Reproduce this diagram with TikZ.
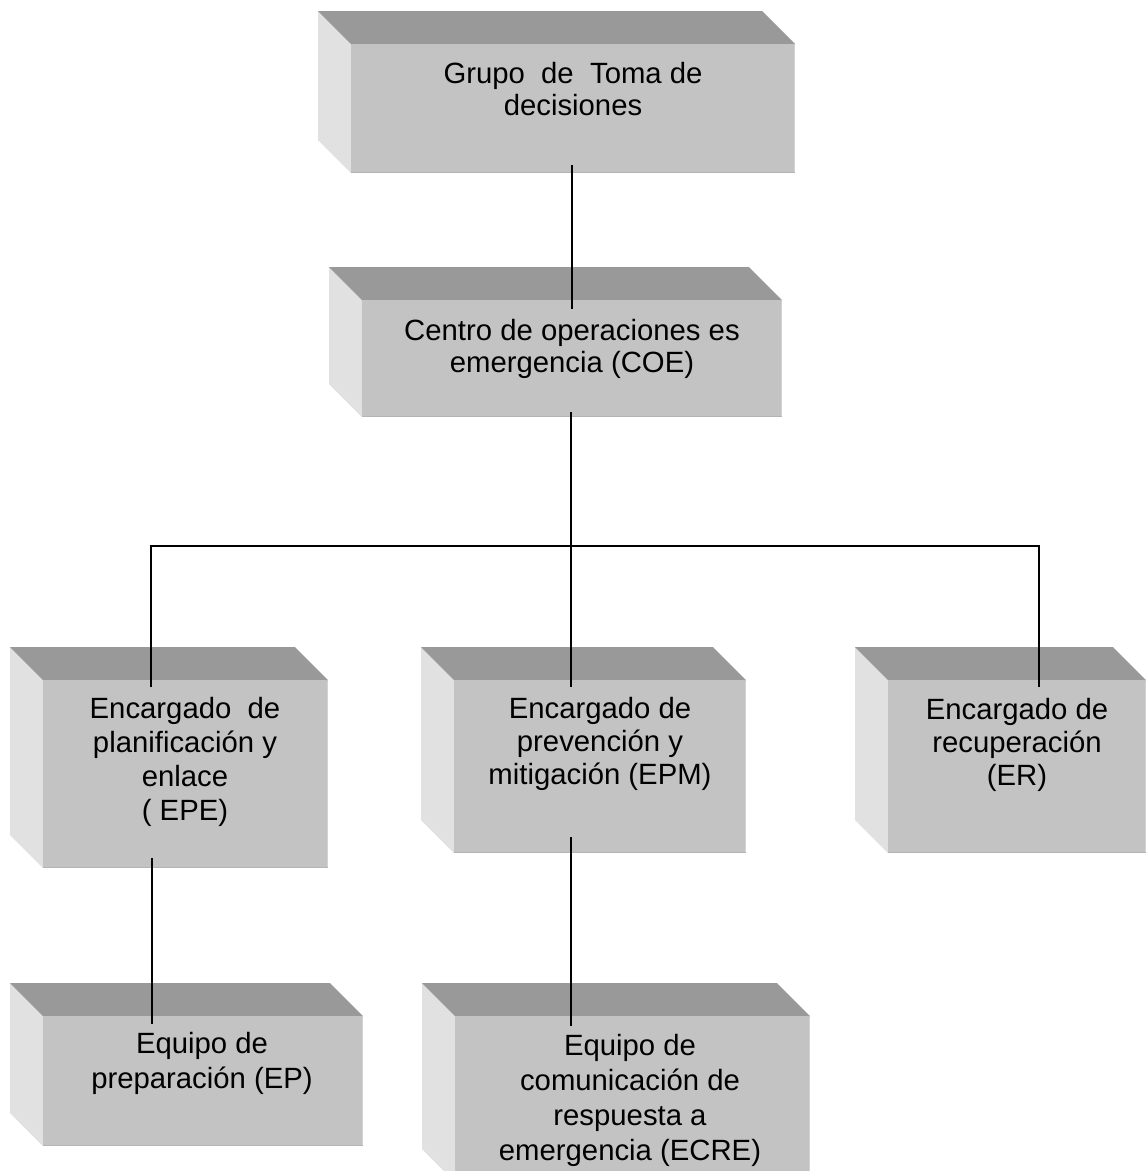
\documentclass[tikz,border=0pt]{standalone}
\usepackage{fontspec}
\setmainfont{Liberation Sans}
\usetikzlibrary{calc}
\definecolor{topc}{HTML}{999999}
\definecolor{leftc}{HTML}{E1E1E1}
\definecolor{frontc}{HTML}{C3C3C3}
\definecolor{frontedge}{HTML}{B4B4B4}
\definecolor{frontlight}{HTML}{D2D2D2}
\newcommand\cubebox[5]{% name, x0, y0, x1, y1
  \fill[leftc] (#2,#3) -- (#2+33,#3+33) -- (#2+33,#5) -- (#2,#5-33) -- cycle;
  \fill[topc] (#2,#3) -- (#4-33,#3) -- (#4,#3+33) -- (#2+33,#3+33) -- cycle;
  \node[face, minimum width={#4pt-#2pt-33pt}, minimum height={#5pt-#3pt-33pt}]
     (#1) at ({(#2+33+#4)/2},{(#3+33+#5)/2}) {};
  \draw[frontlight, line width=1.5pt] (#4-0.75,#3+34) -- (#4-0.75,#5);
  \draw[frontedge, line width=1.5pt] (#2+33,#5-0.75) -- (#4,#5-0.75);
}
\tikzset{
  face/.style={fill=frontc, draw=none, inner sep=0pt, outer sep=0pt},
  lbl/.style={anchor=north, align=center, inner sep=0pt, text=black},
  conn/.style={draw=black, line width=2pt},
}
\begin{document}
\begin{tikzpicture}[x=1pt, y=-1pt]
\useasboundingbox (0,0) rectangle (1146,1171);
% boxes
\cubebox{b1}{318}{11}{795}{173}
\cubebox{b2}{329}{267}{782}{417}
\cubebox{b3}{10}{647}{328}{868}
\cubebox{b4}{421}{647}{746}{853}
\cubebox{b5}{855}{647}{1146}{853}
\cubebox{b6}{10}{983}{363}{1146}
\cubebox{b7}{422}{983}{810}{1182}
% texts
\node[lbl, font=\fontsize{29.3pt}{32pt}\selectfont] (t1) at (573,62) {Grupo~ de~ Toma de\\decisiones};
\node[lbl, font=\fontsize{29.3pt}{32pt}\selectfont] (t2) at (572,319) {Centro de operaciones es\\emergencia (COE)};
\node[lbl, font=\fontsize{29.3pt}{34pt}\selectfont] (t3) at (185,697) {Encargado~ de\\planificación y\\enlace\\( EPE)};
\node[lbl, font=\fontsize{29.3pt}{33pt}\selectfont] (t4) at (600,697) {Encargado de\\prevención y\\mitigación (EPM)};
\node[lbl, font=\fontsize{29.3pt}{33pt}\selectfont] (t5) at (1017,698) {Encargado de\\recuperación\\(ER)};
\node[lbl, font=\fontsize{29.3pt}{35pt}\selectfont] (t6) at (202,1032) {Equipo de\\preparación (EP)};
\node[lbl, font=\fontsize{29.3pt}{35pt}\selectfont] (t7) at (630,1034) {Equipo de\\comunicación de\\respuesta a\\emergencia (ECRE)};
% junction coordinates
\coordinate (j) at (571,546);
\coordinate (jl) at (151,546);
\coordinate (jr) at (1039,546);
% connectors
\draw[conn, line width=2.8pt] ([yshift=8pt]b1.south -| b2.north) -- ([yshift=-9pt]b2.north);
\draw[conn] ([yshift=5pt]b2.south -| j) -- (j) -- ([yshift=-7pt]b4.north -| j);
\draw[conn] ([yshift=-7pt]b3.north -| jl) -- (jl) -- (jr) -- ([yshift=-7pt]b5.north -| jr);
\draw[conn] ([yshift=10pt]b3.south -| 152,0) -- ([yshift=-8pt]b6.north -| 152,0);
\draw[conn] ([yshift=16pt]b4.south -| j) -- ([yshift=-10pt]b7.north -| j);
\end{tikzpicture}
\end{document}
